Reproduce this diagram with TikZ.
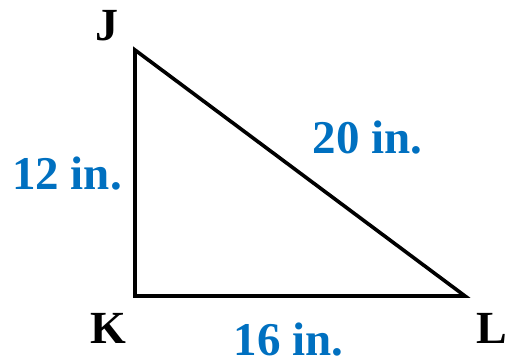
\documentclass[tikz,border=0pt]{standalone}
\usepackage{fontspec}
\setmainfont{Liberation Serif}
\definecolor{lblue}{HTML}{0070C0}
\begin{document}
\begin{tikzpicture}[x=1pt,y=-1pt,
  side/.style={line width=3.6pt,line join=miter},
  vlab/.style={inner sep=0pt,anchor=base,font=\fontsize{46}{50}\selectfont\bfseries},
  mlab/.style={inner sep=0pt,anchor=base,text=lblue,font=\fontsize{47}{50}\selectfont\bfseries}]
\useasboundingbox (0,0) rectangle (507,359);
\coordinate (J) at (135,50);
\coordinate (K) at (135,296);
\coordinate (L) at (465,296);
\draw[side] (J) -- (K) -- (L) -- cycle;
\node[vlab] (jl) at (107,40) {J};
\node[vlab] (kl) at (108,343) {K};
\node[vlab] (ll) at (492,343) {L};
\node[mlab] (a) at (67,189) {12 in.};
\node[mlab] (b) at (367.5,153) {20 in.};
\node[mlab] (c) at (288.5,355) {16 in.};
\end{tikzpicture}
\end{document}
